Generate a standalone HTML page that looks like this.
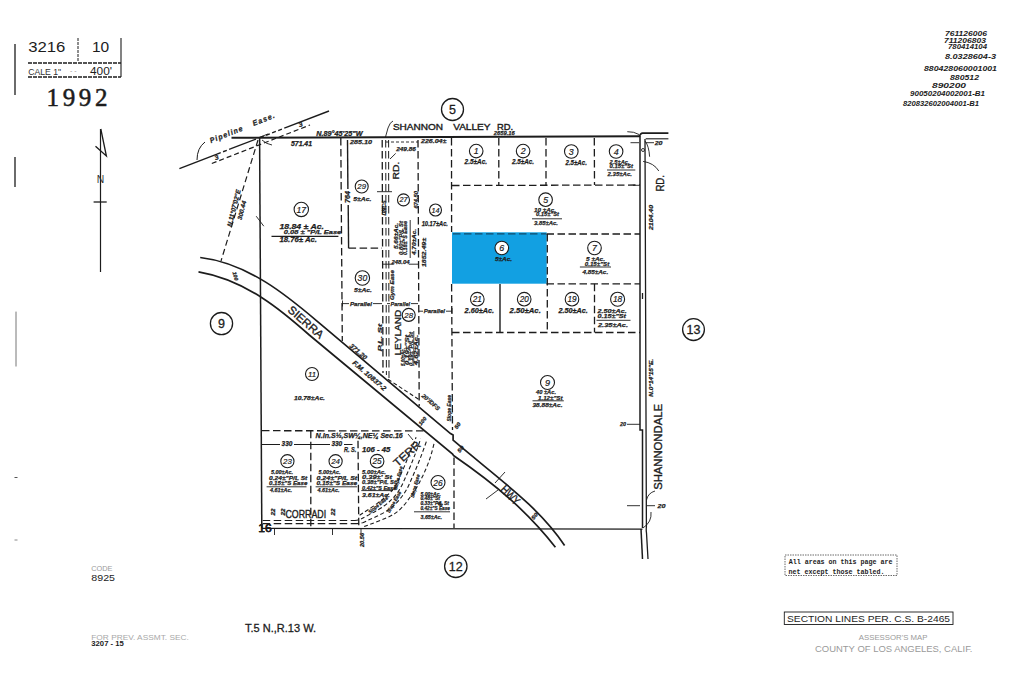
<!DOCTYPE html>
<html><head><meta charset="utf-8">
<style>
html,body{margin:0;padding:0;background:#fff;width:1024px;height:687px;overflow:hidden}
svg{position:absolute;left:0;top:0}
text{font-family:"Liberation Sans",sans-serif;fill:#1c1c1c}
.it{font-style:italic;font-weight:bold;stroke:#1c1c1c;stroke-width:0.25}
.ser{font-family:"Liberation Serif",serif}
.mono{font-family:"Liberation Mono",monospace}
.it0{font-style:italic;font-weight:bold}
.hw{font-style:italic;stroke:#1c1c1c;stroke-width:0.2}
.bold{font-weight:bold}
</style></head><body>
<svg width="1024" height="687" viewBox="0 0 1024 687">
<g stroke="#1c1c1c" fill="none" stroke-width="1.3">
  <line x1="15" y1="44" x2="15" y2="95"/>
  <line x1="15" y1="157" x2="15" y2="187"/>
  <line x1="16" y1="311.6" x2="16" y2="366.5" stroke="#777" stroke-width="1"/>
  <line x1="14.5" y1="477.5" x2="17.5" y2="477.5" stroke="#555" stroke-width="1"/>
  <line x1="14.5" y1="540" x2="17.5" y2="540" stroke="#888" stroke-width="1"/>
  <line x1="78" y1="38" x2="78" y2="62" stroke-dasharray="3 1" stroke-width="1"/>
  <line x1="121" y1="38" x2="121" y2="77" stroke-width="1.1"/>
  <line x1="28" y1="63" x2="121" y2="63" stroke-dasharray="4 1"/>
  <line x1="28" y1="77" x2="121" y2="77" stroke-dasharray="4 1"/>
  <line x1="100.5" y1="129" x2="100.5" y2="272" stroke-width="1.2"/>
  <path d="M100.8 129 L106.4 156 L95.5 146.2" stroke-width="1.3"/>
  <line x1="93.6" y1="202" x2="106.7" y2="202"/>
</g>
<text x="28.2" y="52" font-size="15.5" textLength="37.2" lengthAdjust="spacingAndGlyphs">3216</text>
<text x="92" y="52" font-size="15.5">10</text>
<text x="28.2" y="74.5" font-size="9.5" textLength="33" lengthAdjust="spacingAndGlyphs" style="fill:#333">CALE 1"</text><text x="70" y="73" font-size="7" style="fill:#999">- -</text>
<text x="90" y="74.5" font-size="10" textLength="22" lengthAdjust="spacingAndGlyphs">400'</text>
<text x="46.5" y="106.4" font-size="25" class="ser" textLength="61" lengthAdjust="spacing" stroke="#1c1c1c" stroke-width="0.55">1992</text>
<text x="96.8" y="183.2" font-size="10" textLength="7.5" lengthAdjust="spacingAndGlyphs" style="fill:#333">N</text>

<text x="945" y="36.0" font-size="7.2" class="it0" textLength="42" lengthAdjust="spacingAndGlyphs">761126006</text>
<text x="944" y="43.1" font-size="7.2" class="it0" textLength="42" lengthAdjust="spacingAndGlyphs">711206803</text>
<text x="948" y="49.1" font-size="7.2" class="it0" textLength="39" lengthAdjust="spacingAndGlyphs">780414104</text>
<text x="945" y="58.6" font-size="7.2" class="it0" textLength="51" lengthAdjust="spacingAndGlyphs">8.0328604-3</text>
<text x="924" y="70.6" font-size="7.2" class="it0" textLength="73" lengthAdjust="spacingAndGlyphs">880428060001001</text>
<text x="950" y="80.19999999999999" font-size="7.2" class="it0" textLength="29" lengthAdjust="spacingAndGlyphs">880512</text>
<text x="932" y="88.3" font-size="7.2" class="it0" textLength="34" lengthAdjust="spacingAndGlyphs">890200</text>
<text x="910" y="96.0" font-size="7.2" class="it0" textLength="75" lengthAdjust="spacingAndGlyphs">90050204002001-B1</text>
<text x="903" y="105.89999999999999" font-size="7.2" class="it0" textLength="76" lengthAdjust="spacingAndGlyphs">820832602004001-B1</text>
<g stroke="#1c1c1c" fill="none" stroke-width="1.5">
  <line x1="231.5" y1="137.8" x2="640" y2="136.2" stroke-width="1.9"/>
  <path d="M640 136 L640 430 L642.5 430 L642.5 528"/>
  <path d="M641 529 L642.5 559"/>
  <path d="M645 139 L646.4 527 Q646 530 646.5 533 L648 559" stroke-width="1.3"/>
  <path d="M639.3 136.4 Q640.5 133.1 642.5 133.1 L668.4 133.1" stroke-width="1.6"/>
  <line x1="645.7" y1="138.8" x2="668.4" y2="138.8" stroke-width="1.1"/>
  <line x1="262" y1="528.3" x2="642.5" y2="529.2" stroke-width="1.3"/>
  <line x1="259.6" y1="137.8" x2="261.8" y2="528" stroke-width="1.5"/>
  <line x1="179.4" y1="168.6" x2="217.0" y2="154.1" stroke-width="1.4"/>
  <line x1="217.0" y1="154.1" x2="231.0" y2="148.7" stroke-width="1.4" stroke-dasharray="4 2.5"/>
  <line x1="231.0" y1="148.7" x2="256.0" y2="139.1" stroke-width="1.4"/>
  <line x1="260.0" y1="137.6" x2="285.0" y2="127.9" stroke-width="1.4" stroke-dasharray="4 2.5"/>
  <line x1="285.0" y1="127.9" x2="329.0" y2="111.0" stroke-width="1.4"/>
  <line x1="211.8" y1="163.5" x2="310" y2="125" stroke-dasharray="5 3" stroke-width="1.2"/>
  <line x1="258" y1="140" x2="221" y2="261" stroke-dasharray="6 3.5" stroke-width="1.2"/>
  <path d="M205 142 Q197 148 197 160" stroke-width="1"/>
</g>
<g stroke="#1c1c1c" fill="none" stroke-width="1.7">
<path d="M200.2 257.5 C250.6 263.3 292.5 300.4 320 323.6 L450.5 433.6 L453.1 435.1 L453.1 440.2 C499.1 479.4 538.1 505.9 564.6 545.5"/>
<path d="M198.5 271.9 C246.3 280 282.9 311.5 309.3 335 L452.6 454 L453.5 455.5 C498.9 486.8 528.8 513.4 555.4 547.2"/>
</g>
<rect x="452" y="232.3" width="94.7" height="51.4" fill="#12a0e2"/>
<line x1="453" y1="233.9" x2="546" y2="233.9" stroke="#124a6a" stroke-width="1.1" stroke-dasharray="7.5 3.5"/>
<g stroke="#1c1c1c" fill="none" stroke-width="1.3" stroke-dasharray="7.5 3.5">
  <line x1="340.8" y1="138" x2="342.3" y2="341"/>
  <line x1="382.2" y1="140" x2="383" y2="373"/>
  <line x1="385.7" y1="140" x2="386.4" y2="375" stroke-width="1"/>
  <line x1="388.6" y1="140" x2="389" y2="378" stroke-width="1"/>
  <line x1="418" y1="140" x2="419.2" y2="406"/>
  <line x1="451.5" y1="138" x2="451.6" y2="232"/><line x1="451.6" y1="284" x2="452.5" y2="430"/>
  <line x1="452" y1="185.5" x2="640" y2="185"/>
  <line x1="498.8" y1="138" x2="498.8" y2="185"/>
  <line x1="546" y1="138" x2="546" y2="185"/>
  <line x1="594.3" y1="138" x2="594.5" y2="185"/>
  <line x1="546.5" y1="234" x2="640" y2="234"/>
  <line x1="547.3" y1="234" x2="547.3" y2="332.5"/>
  <line x1="546.5" y1="283.8" x2="640" y2="283.8"/>
  <line x1="594.5" y1="283.8" x2="594.5" y2="332.5"/>
  <line x1="452" y1="332.5" x2="640" y2="332.5"/>
  <line x1="262" y1="430.7" x2="425" y2="430.9"/>
  <line x1="310.8" y1="430.7" x2="310.8" y2="528"/>
  <line x1="358" y1="440.8" x2="358.8" y2="528"/>
  <line x1="454" y1="457.6" x2="454" y2="528"/>
  <line x1="348.6" y1="248.2" x2="382" y2="248.2"/>
  <line x1="262.7" y1="520.5" x2="355" y2="520.5" stroke-width="1.1"/>
  <line x1="262.7" y1="523.6" x2="355" y2="523.6" stroke-width="1.1"/>
</g>
<g stroke="#1c1c1c" fill="none" stroke-width="1.4">
  <line x1="347.5" y1="140" x2="347.9" y2="189"/><line x1="348.2" y1="205" x2="348.6" y2="248.2"/>
  <line x1="500" y1="284" x2="500" y2="332.5"/>
  <line x1="262" y1="444.5" x2="352.5" y2="444.5" stroke-width="1.1"/>
</g>
<g stroke="#1c1c1c" fill="none" stroke-width="1.1" stroke-dasharray="4 2.5">
<path d="M359.6 515.2 C362.7 513.2 372.3 507.2 377.9 502.9 C383.5 498.6 389.1 494.5 393.2 489.2 C397.3 483.9 399.6 476.9 402.4 470.8 C405.2 464.7 407.7 458.1 410.0 452.5 C412.3 446.9 415.1 439.8 416.1 437.2"/>
<path d="M361.1 519.0 C364.9 516.8 377.9 510.5 384.0 506.0 C390.1 501.5 394.0 497.5 397.8 492.2 C401.6 486.9 404.2 480.1 407.0 474.0 C409.8 467.9 412.3 461.5 414.6 455.6 C416.9 449.7 419.7 441.6 420.7 438.8"/>
<path d="M362.6 522.8 C366.9 520.6 381.7 514.6 388.6 509.8 C395.5 505.0 399.8 499.5 403.9 493.8 C408.0 488.1 410.3 481.5 413.1 475.4 C415.9 469.3 418.4 463.0 420.7 457.1 C423.0 451.2 425.8 443.1 426.8 440.3"/>
<path d="M364.2 526.6 C369.3 524.4 386.8 518.8 394.7 513.6 C402.6 508.4 406.9 501.4 411.5 495.3 C416.1 489.2 419.1 483.1 422.2 477.0 C425.3 470.9 427.8 464.5 429.9 458.6 C431.9 452.7 433.7 444.6 434.5 441.8"/>
<path d="M355 520.5 Q358 520 361.1 519"/><path d="M355 523.6 Q359 523.5 362.6 522.8"/>
<line x1="388" y1="379.3" x2="418.5" y2="399.2"/>
</g>
<g stroke="#1c1c1c" fill="none" stroke-width="1.3">
<circle cx="452.5" cy="109.5" r="11"/>
<circle cx="221.5" cy="323.6" r="11.1"/>
<circle cx="693.5" cy="329.6" r="10.9"/>
<circle cx="455.8" cy="566.3" r="11.2"/>
</g>
<text x="452.5" y="113.8" font-size="12.5" text-anchor="middle" stroke="#1c1c1c" stroke-width="0.3">5</text>
<text x="221.5" y="327.90000000000003" font-size="12.5" text-anchor="middle" stroke="#1c1c1c" stroke-width="0.3">9</text>
<text x="693.5" y="333.90000000000003" font-size="12.5" text-anchor="middle" stroke="#1c1c1c" stroke-width="0.3">13</text>
<text x="455.8" y="570.5999999999999" font-size="12.5" text-anchor="middle" stroke="#1c1c1c" stroke-width="0.3">12</text>
<circle cx="501.8" cy="248" r="6.8" fill="#fff"/>
<g stroke="#1c1c1c" fill="none" stroke-width="1.1">
<circle cx="476.2" cy="151.1" r="6.8"/>
<circle cx="523.1" cy="151.1" r="6.8"/>
<circle cx="571.3" cy="151.5" r="6.8"/>
<circle cx="616.1" cy="151.5" r="6.8"/>
<circle cx="545.6" cy="199.7" r="6.8"/>
<circle cx="501.8" cy="248" r="6.8"/>
<circle cx="594.5" cy="248" r="6.8"/>
<circle cx="477.3" cy="299.2" r="6.8"/>
<circle cx="524.2" cy="299.2" r="6.8"/>
<circle cx="572" cy="299.2" r="6.8"/>
<circle cx="617.6" cy="299.2" r="7"/>
<circle cx="547.5" cy="382.5" r="7"/>
<circle cx="361.7" cy="186.5" r="6.5"/>
<circle cx="403.5" cy="199.9" r="6"/>
<circle cx="435.5" cy="210" r="6"/>
<circle cx="362.4" cy="278" r="7.2"/>
<circle cx="312" cy="374" r="6.5"/>
<circle cx="408.7" cy="314.9" r="6.5"/>
<circle cx="301.3" cy="209.4" r="7.2"/>
<circle cx="287.4" cy="461.2" r="6.6"/>
<circle cx="335.6" cy="461.2" r="6.6"/>
<circle cx="377.1" cy="461.2" r="6.8"/>
<circle cx="438" cy="482.5" r="7"/>
</g>
<text x="476.2" y="154.2824" font-size="8.8" class="hw" text-anchor="middle">1</text>
<text x="523.1" y="154.2824" font-size="8.8" class="hw" text-anchor="middle">2</text>
<text x="571.3" y="154.6824" font-size="8.8" class="hw" text-anchor="middle">3</text>
<text x="616.1" y="154.6824" font-size="8.8" class="hw" text-anchor="middle">4</text>
<text x="545.6" y="202.8824" font-size="8.8" class="hw" text-anchor="middle">5</text>
<text x="501.8" y="251.1824" font-size="8.8" class="hw" text-anchor="middle">6</text>
<text x="594.5" y="251.1824" font-size="8.8" class="hw" text-anchor="middle">7</text>
<text x="477.3" y="302.13759999999996" font-size="8.2" class="hw" text-anchor="middle">21</text>
<text x="524.2" y="302.13759999999996" font-size="8.2" class="hw" text-anchor="middle">20</text>
<text x="572" y="302.13759999999996" font-size="8.2" class="hw" text-anchor="middle">19</text>
<text x="617.6" y="302.224" font-size="8.4" class="hw" text-anchor="middle">18</text>
<text x="547.5" y="385.776" font-size="9.1" class="hw" text-anchor="middle">9</text>
<text x="361.7" y="189.308" font-size="7.8" class="hw" text-anchor="middle">29</text>
<text x="403.5" y="202.49200000000002" font-size="7.2" class="hw" text-anchor="middle">27</text>
<text x="435.5" y="212.592" font-size="7.2" class="hw" text-anchor="middle">14</text>
<text x="362.4" y="281.1104" font-size="8.6" class="hw" text-anchor="middle">30</text>
<text x="312" y="376.808" font-size="7.8" class="hw" text-anchor="middle">11</text>
<text x="408.7" y="317.70799999999997" font-size="7.8" class="hw" text-anchor="middle">28</text>
<text x="301.3" y="212.5104" font-size="8.6" class="hw" text-anchor="middle">17</text>
<text x="287.4" y="464.0512" font-size="7.9" class="hw" text-anchor="middle">23</text>
<text x="335.6" y="464.0512" font-size="7.9" class="hw" text-anchor="middle">24</text>
<text x="377.1" y="464.13759999999996" font-size="8.2" class="hw" text-anchor="middle">25</text>
<text x="438" y="485.524" font-size="8.4" class="hw" text-anchor="middle">26</text>
<text x="464.6" y="164.2" font-size="6.9" class="it" textLength="22.5" lengthAdjust="spacingAndGlyphs">2.5±Ac.</text>
<text x="512.0" y="164.2" font-size="6.9" class="it" textLength="22.0" lengthAdjust="spacingAndGlyphs">2.5±Ac.</text>
<text x="565.5" y="164.8" font-size="6.9" class="it" textLength="21.4" lengthAdjust="spacingAndGlyphs">2.5±Ac.</text>
<text x="609.6" y="163.6" font-size="6.2" class="it" textLength="19.9" lengthAdjust="spacingAndGlyphs">2.5±Ac.</text>
<text x="609.6" y="167.9" font-size="6.2" class="it" textLength="23.4" lengthAdjust="spacingAndGlyphs">0.15±"St</text>
<line x1="607" y1="170" x2="635.3" y2="170" stroke="#1c1c1c" stroke-width="0.9"/>
<text x="607.5" y="175.9" font-size="6.2" class="it" textLength="24.5" lengthAdjust="spacingAndGlyphs">2.35±Ac.</text>
<text x="493.7" y="135.3" font-size="5.8" class="it" textLength="21.1" lengthAdjust="spacingAndGlyphs">2659.16</text>
<text x="534.0" y="212.1" font-size="6.2" class="it" textLength="22.0" lengthAdjust="spacingAndGlyphs">10  ±Ac.</text>
<text x="536.0" y="216.3" font-size="6.2" class="it" textLength="23.0" lengthAdjust="spacingAndGlyphs">0.15±"St</text>
<line x1="532" y1="218.8" x2="562" y2="218.8" stroke="#1c1c1c" stroke-width="0.9"/>
<text x="534.0" y="224.7" font-size="6.2" class="it" textLength="24.0" lengthAdjust="spacingAndGlyphs">3.85±Ac.</text>
<text x="494.9" y="260.9" font-size="6.2" class="it" textLength="17.2" lengthAdjust="spacingAndGlyphs">5±Ac.</text>
<text x="586.0" y="260.9" font-size="6.2" class="it" textLength="19.0" lengthAdjust="spacingAndGlyphs">5  ±Ac.</text>
<text x="584.8" y="265.9" font-size="6.2" class="it" textLength="24.4" lengthAdjust="spacingAndGlyphs">0.15±"St</text>
<line x1="579.9" y1="267" x2="611" y2="267" stroke="#1c1c1c" stroke-width="0.9"/>
<text x="582.4" y="273.8" font-size="6.2" class="it" textLength="25.8" lengthAdjust="spacingAndGlyphs">4.85±Ac.</text>
<text x="464.6" y="313.4" font-size="6.9" class="it" textLength="29.4" lengthAdjust="spacingAndGlyphs">2.60±Ac.</text>
<text x="509.6" y="313.4" font-size="6.9" class="it" textLength="31.2" lengthAdjust="spacingAndGlyphs">2.50±Ac.</text>
<text x="558.4" y="313.4" font-size="6.9" class="it" textLength="29.3" lengthAdjust="spacingAndGlyphs">2.50±Ac.</text>
<text x="597.5" y="313.2" font-size="6.2" class="it" textLength="29.3" lengthAdjust="spacingAndGlyphs">2.50±Ac.</text>
<text x="597.5" y="318.1" font-size="6.2" class="it" textLength="28.5" lengthAdjust="spacingAndGlyphs">0.15±"St</text>
<line x1="596.5" y1="320.3" x2="630.5" y2="320.3" stroke="#1c1c1c" stroke-width="0.9"/>
<text x="598.0" y="327.2" font-size="6.2" class="it" textLength="30.0" lengthAdjust="spacingAndGlyphs">2.35±Ac.</text>
<text x="536.0" y="394.2" font-size="6.2" class="it" textLength="20.0" lengthAdjust="spacingAndGlyphs">40  ±Ac.</text>
<text x="538.0" y="399.8" font-size="6.2" class="it" textLength="24.5" lengthAdjust="spacingAndGlyphs">1.12±"St</text>
<line x1="532.5" y1="400.8" x2="563.8" y2="400.8" stroke="#1c1c1c" stroke-width="0.9"/>
<text x="532.5" y="407.2" font-size="6.2" class="it" textLength="30.0" lengthAdjust="spacingAndGlyphs">38.88±Ac.</text>
<text x="279.5" y="229.3" font-size="6.9" class="it" textLength="44.4" lengthAdjust="spacingAndGlyphs">18.84 ± Ac.</text>
<text x="283.8" y="234.2" font-size="6.2" class="it" textLength="57.5" lengthAdjust="spacingAndGlyphs">0.08 ± "P/L Ease</text>
<line x1="271.5" y1="236.3" x2="338.4" y2="236.3" stroke="#1c1c1c" stroke-width="1.2"/>
<text x="279.5" y="242.1" font-size="6.9" class="it" textLength="37.5" lengthAdjust="spacingAndGlyphs">18.76± Ac.</text>
<text x="350.0" y="143.8" font-size="6.2" class="it" textLength="22.0" lengthAdjust="spacingAndGlyphs">285.10</text>
<text x="353.3" y="200.7" font-size="6.2" class="it" textLength="18.2" lengthAdjust="spacingAndGlyphs">5±Ac.</text>
<text x="421.0" y="143.2" font-size="6.2" class="it" textLength="25.4" lengthAdjust="spacingAndGlyphs">226.04±</text>
<text x="396.2" y="151.0" font-size="5.8" class="it" textLength="19.7" lengthAdjust="spacingAndGlyphs">249.86</text>
<text x="421.7" y="225.6" font-size="6.7" class="it" textLength="26.2" lengthAdjust="spacingAndGlyphs">10.17±Ac.</text>
<text x="354.0" y="292.2" font-size="6.2" class="it" textLength="18.0" lengthAdjust="spacingAndGlyphs">5±Ac.</text>
<text x="294.0" y="399.8" font-size="6.2" class="it" textLength="31.0" lengthAdjust="spacingAndGlyphs">10.78±Ac.</text>
<text x="291.0" y="145.6" font-size="6.7" class="it" textLength="21.0" lengthAdjust="spacingAndGlyphs">571.41</text>
<text x="316.2" y="136.0" font-size="6.7" class="it" textLength="46.3" lengthAdjust="spacingAndGlyphs">N.89°45'25"W</text>
<text x="350.0" y="305.8" font-size="6.0" class="it" textLength="22.0" lengthAdjust="spacingAndGlyphs">Parallel</text>
<text x="390.5" y="305.8" font-size="6.0" class="it" textLength="19.5" lengthAdjust="spacingAndGlyphs">Parallel</text>
<text x="423.7" y="313.3" font-size="6.0" class="it" textLength="21.3" lengthAdjust="spacingAndGlyphs">Parallel</text>
<g stroke="#1c1c1c" stroke-width="0.4">
<text x="392.9" y="129.7" font-size="9.7" class="" textLength="50.1" lengthAdjust="spacingAndGlyphs">SHANNON</text>
<text x="453.2" y="129.7" font-size="9.7" class="" textLength="37.3" lengthAdjust="spacingAndGlyphs">VALLEY</text>
<text x="497.1" y="129.7" font-size="9.7" class="" textLength="16.1" lengthAdjust="spacingAndGlyphs">RD.</text>
</g>
<g letter-spacing="1.2">
<text transform="translate(226.5 134.0) rotate(-21.5)" x="-17.8" y="2.8" font-size="7.6" class="it" textLength="35.6" lengthAdjust="spacingAndGlyphs">Pipeline</text>
<text transform="translate(264.0 119.0) rotate(-21.5)" x="-12.0" y="2.8" font-size="7.6" class="it" textLength="24.0" lengthAdjust="spacingAndGlyphs">Ease.</text>
</g>
<text transform="translate(216.5 157.5) rotate(-21.5)" x="-2.0" y="2.2" font-size="6.2" class="it" textLength="4.0" lengthAdjust="spacingAndGlyphs">3</text>
<text transform="translate(300.5 124.5) rotate(-21.5)" x="-2.0" y="2.2" font-size="6.2" class="it" textLength="4.0" lengthAdjust="spacingAndGlyphs">3</text>
<text transform="translate(233.8 208.0) rotate(-76)" x="-18.9" y="2.4" font-size="6.7" class="it" textLength="37.8" lengthAdjust="spacingAndGlyphs">N.11°07'02"E</text>
<text transform="translate(241.8 210.3) rotate(-76)" x="-9.7" y="2.2" font-size="6.2" class="it" textLength="19.4" lengthAdjust="spacingAndGlyphs">300.44</text>
<text transform="translate(347.5 197.0) rotate(-90)" x="-6.0" y="2.5" font-size="6.9" class="it" textLength="12.0" lengthAdjust="spacingAndGlyphs">764</text>
<text transform="translate(415.9 199.8) rotate(-90)" x="-8.8" y="2.1" font-size="5.8" class="it" textLength="17.6" lengthAdjust="spacingAndGlyphs">674.50</text>
<g stroke="#1c1c1c" stroke-width="0.3">
<text transform="translate(396.2 170.5) rotate(-90)" x="-8.9" y="3.0" font-size="8.5" class="" textLength="17.8" lengthAdjust="spacingAndGlyphs">RD.</text>
</g>
<text transform="translate(424.0 252.5) rotate(-90)" x="-14.5" y="2.2" font-size="6.2" class="it" textLength="29.0" lengthAdjust="spacingAndGlyphs">1852.49±</text>
<text transform="translate(383.5 208.0) rotate(-90)" x="-7.5" y="2.1" font-size="5.8" class="it" textLength="15.0" lengthAdjust="spacingAndGlyphs">DNCS</text>
<text transform="translate(392.0 285.0) rotate(-90)" x="-15.0" y="2.1" font-size="5.8" class="it" textLength="30.0" lengthAdjust="spacingAndGlyphs">Gym Ease</text>
<text transform="translate(396.0 236.0) rotate(-90)" x="-13.0" y="2.1" font-size="5.8" class="it" textLength="26.0" lengthAdjust="spacingAndGlyphs">5.66±Ac.</text>
<text transform="translate(400.5 238.0) rotate(-90)" x="-17.0" y="2.1" font-size="5.8" class="it" textLength="34.0" lengthAdjust="spacingAndGlyphs">0.80±"P/L St</text>
<text transform="translate(405.0 238.0) rotate(-90)" x="-17.0" y="2.1" font-size="5.8" class="it" textLength="34.0" lengthAdjust="spacingAndGlyphs">0.16±"S Ease</text>
<text transform="translate(413.5 242.0) rotate(-90)" x="-13.0" y="2.1" font-size="5.8" class="it" textLength="26.0" lengthAdjust="spacingAndGlyphs">4.70±Ac.</text>
<line x1="410.2" y1="220" x2="410.2" y2="258" stroke="#1c1c1c" stroke-width="0.9"/>
<text transform="translate(400.5 261.5) rotate(0)" x="-9.0" y="2.1" font-size="5.8" class="it" textLength="18.0" lengthAdjust="spacingAndGlyphs">248.04</text>
<g stroke="#1c1c1c" stroke-width="0.9"><line x1="383" y1="264.2" x2="393.7" y2="264.2"/><line x1="409" y1="264.2" x2="418.5" y2="264.2"/></g>
<text transform="translate(397.5 332.6) rotate(-90)" x="-22.9" y="3.5" font-size="9.7" class="" textLength="45.8" lengthAdjust="spacingAndGlyphs" stroke="#1c1c1c" stroke-width="0.35">LEYLAND</text>
<text transform="translate(403.4 357.0) rotate(-90)" x="-9.0" y="1.8" font-size="5.0" class="it" textLength="18.0" lengthAdjust="spacingAndGlyphs">5.00±Ac.</text>
<text transform="translate(407.5 350.0) rotate(-90)" x="-15.0" y="1.8" font-size="5.0" class="it" textLength="30.0" lengthAdjust="spacingAndGlyphs">0.19±"St</text>
<text transform="translate(411.5 349.0) rotate(-90)" x="-17.0" y="1.8" font-size="5.0" class="it" textLength="34.0" lengthAdjust="spacingAndGlyphs">0.19±"P/L St</text>
<text transform="translate(416.0 350.0) rotate(-90)" x="-15.0" y="1.8" font-size="5.0" class="it" textLength="30.0" lengthAdjust="spacingAndGlyphs">4.62±Ac.</text>
<line x1="413.8" y1="331" x2="413.8" y2="366" stroke="#1c1c1c" stroke-width="0.8"/>
<text transform="translate(379.8 337.8) rotate(-90)" x="-13.8" y="2.1" font-size="5.8" class="it" textLength="27.6" lengthAdjust="spacingAndGlyphs">P.L. St</text>
<text transform="translate(306.0 322.0) rotate(41)" x="-21.5" y="4.1" font-size="11.4" class="" textLength="43.0" lengthAdjust="spacingAndGlyphs" stroke="#1c1c1c" stroke-width="0.35">SIERRA</text>
<text transform="translate(358.4 351.5) rotate(41)" x="-10.5" y="2.4" font-size="6.7" class="it" textLength="21.0" lengthAdjust="spacingAndGlyphs">371.20</text>
<text transform="translate(369.5 375.5) rotate(41)" x="-21.0" y="2.4" font-size="6.7" class="it" textLength="42.0" lengthAdjust="spacingAndGlyphs">F.M. 10837-2</text>
<text transform="translate(235.5 276.0) rotate(75)" x="-4.5" y="1.9" font-size="5.3" class="it" textLength="9.0" lengthAdjust="spacingAndGlyphs">100</text>
<text transform="translate(422.5 421.0) rotate(-50)" x="-4.5" y="1.9" font-size="5.3" class="it" textLength="9.0" lengthAdjust="spacingAndGlyphs">100</text>
<text transform="translate(460.5 449.0) rotate(-50)" x="-3.5" y="1.9" font-size="5.3" class="it" textLength="7.0" lengthAdjust="spacingAndGlyphs">50</text>
<text transform="translate(534.5 516.0) rotate(-50)" x="-3.5" y="1.9" font-size="5.3" class="it" textLength="7.0" lengthAdjust="spacingAndGlyphs">50</text>
<text transform="translate(510.5 495.0) rotate(45)" x="-11.0" y="4.2" font-size="11.8" class="" textLength="22.0" lengthAdjust="spacingAndGlyphs" stroke="#1c1c1c" stroke-width="0.35">HWY</text>
<text transform="translate(431.0 402.0) rotate(41)" x="-11.0" y="2.1" font-size="5.8" class="it" textLength="22.0" lengthAdjust="spacingAndGlyphs">20'/DFS</text>
<text transform="translate(448.8 408.3) rotate(-90)" x="-13.3" y="1.9" font-size="5.3" class="it" textLength="26.6" lengthAdjust="spacingAndGlyphs">Slope Ease</text>
<text transform="translate(457.5 425.6) rotate(-55)" x="-3.5" y="1.9" font-size="5.3" class="it" textLength="7.0" lengthAdjust="spacingAndGlyphs">50</text>
<text transform="translate(406.8 453.5) rotate(-42)" x="-16.0" y="4.0" font-size="11.1" class="" textLength="32.0" lengthAdjust="spacingAndGlyphs" stroke="#1c1c1c" stroke-width="0.35">TERR</text>
<text transform="translate(359.2 435.3) rotate(0)" x="-43.6" y="2.5" font-size="6.9" class="it" textLength="87.2" lengthAdjust="spacingAndGlyphs">N.ln.S½,SW¼,NE¼ Sec.16</text>
<rect x="280" y="440" width="14" height="8" fill="#fff"/><rect x="330" y="440" width="14" height="8" fill="#fff"/>
<text transform="translate(287.0 443.6) rotate(0)" x="-5.4" y="2.4" font-size="6.7" class="it" textLength="10.8" lengthAdjust="spacingAndGlyphs">330</text>
<text transform="translate(336.8 443.6) rotate(0)" x="-5.4" y="2.4" font-size="6.7" class="it" textLength="10.8" lengthAdjust="spacingAndGlyphs">330</text>
<text transform="translate(350.1 449.9) rotate(0)" x="-6.2" y="2.5" font-size="6.9" class="it" textLength="12.4" lengthAdjust="spacingAndGlyphs">R. S.</text>
<text transform="translate(376.2 449.9) rotate(0)" x="-14.2" y="2.5" font-size="6.9" class="it" textLength="28.3" lengthAdjust="spacingAndGlyphs">106 - 45</text>
<text x="271.0" y="474.4" font-size="5.8" class="it" textLength="22.0" lengthAdjust="spacingAndGlyphs">5.00±Ac.</text>
<text x="269.0" y="479.9" font-size="5.8" class="it" textLength="38.3" lengthAdjust="spacingAndGlyphs">0.24±"P/L St</text>
<text x="269.0" y="485.3" font-size="5.8" class="it" textLength="38.3" lengthAdjust="spacingAndGlyphs">0.15±"S Ease</text>
<line x1="266.6" y1="486.8" x2="306.5" y2="486.8" stroke="#1c1c1c" stroke-width="0.9"/>
<text x="270.0" y="492.2" font-size="5.8" class="it" textLength="22.0" lengthAdjust="spacingAndGlyphs">4.61±Ac.</text>
<text x="318.5" y="474.4" font-size="5.8" class="it" textLength="22.0" lengthAdjust="spacingAndGlyphs">5.00±Ac.</text>
<text x="316.5" y="479.9" font-size="5.8" class="it" textLength="40.7" lengthAdjust="spacingAndGlyphs">0.24±"P/L St</text>
<text x="316.5" y="485.3" font-size="5.8" class="it" textLength="40.7" lengthAdjust="spacingAndGlyphs">0.15±"S Ease</text>
<line x1="315.6" y1="486.8" x2="357.2" y2="486.8" stroke="#1c1c1c" stroke-width="0.9"/>
<text x="317.5" y="492.2" font-size="5.8" class="it" textLength="22.0" lengthAdjust="spacingAndGlyphs">4.61±Ac.</text>
<text x="362.1" y="474.4" font-size="5.8" class="it" textLength="23.9" lengthAdjust="spacingAndGlyphs">5.00±Ac.</text>
<text x="362.1" y="479.3" font-size="5.8" class="it" textLength="29.9" lengthAdjust="spacingAndGlyphs">0.39±' St</text>
<text x="362.1" y="484.1" font-size="5.8" class="it" textLength="33.9" lengthAdjust="spacingAndGlyphs">0.38±"P/L St</text>
<text x="362.1" y="489.6" font-size="5.8" class="it" textLength="34.1" lengthAdjust="spacingAndGlyphs">0.42±"S Ease</text>
<line x1="361.3" y1="490.6" x2="392.9" y2="490.6" stroke="#1c1c1c" stroke-width="0.9"/>
<text x="362.1" y="496.9" font-size="5.8" class="it" textLength="27.9" lengthAdjust="spacingAndGlyphs">3.61±Ac.</text>
<text x="420.5" y="495.9" font-size="5.3" class="it" textLength="20.5" lengthAdjust="spacingAndGlyphs">5.00±Ac.</text>
<text x="420.5" y="500.4" font-size="5.3" class="it" textLength="19.5" lengthAdjust="spacingAndGlyphs">0.48±"St</text>
<text x="420.5" y="504.9" font-size="5.3" class="it" textLength="28.5" lengthAdjust="spacingAndGlyphs">0.33±"P/L St</text>
<text x="420.5" y="509.9" font-size="5.3" class="it" textLength="29.5" lengthAdjust="spacingAndGlyphs">0.42±"S Ease</text>
<line x1="414" y1="511.8" x2="450" y2="511.8" stroke="#1c1c1c" stroke-width="0.9"/>
<text x="420.5" y="518.9" font-size="5.3" class="it" textLength="21.5" lengthAdjust="spacingAndGlyphs">3.65±Ac.</text>
<g stroke="#1c1c1c" stroke-width="0.35">
<text transform="translate(305.8 514.6) rotate(0)" x="-20.4" y="3.7" font-size="10.3" class="" textLength="40.7" lengthAdjust="spacingAndGlyphs" stroke="#1c1c1c" stroke-width="0.35">CORRADI</text>
<text transform="translate(265.0 527.8) rotate(0)" x="-6.8" y="4.2" font-size="11.8" class="" textLength="13.5" lengthAdjust="spacingAndGlyphs" stroke="#1c1c1c" stroke-width="0.35">16</text>
</g>
<text transform="translate(265.0 527.8) rotate(0)" x="-6.8" y="4.2" font-size="11.8" class="" textLength="13.5" lengthAdjust="spacingAndGlyphs" stroke="#1c1c1c" stroke-width="0.35">16</text>
<text transform="translate(362.5 540.0) rotate(-90)" x="-7.0" y="1.8" font-size="5.0" class="it" textLength="14.0" lengthAdjust="spacingAndGlyphs">20.56</text>
<text transform="translate(273.0 512.0) rotate(-90)" x="-3.5" y="1.8" font-size="5.0" class="it" textLength="7.0" lengthAdjust="spacingAndGlyphs">22</text>
<text transform="translate(283.0 512.0) rotate(-90)" x="-3.5" y="1.8" font-size="5.0" class="it" textLength="7.0" lengthAdjust="spacingAndGlyphs">22</text>
<text transform="translate(333.5 512.0) rotate(-90)" x="-3.5" y="1.8" font-size="5.0" class="it" textLength="7.0" lengthAdjust="spacingAndGlyphs">22</text>
<text transform="translate(378.0 505.0) rotate(-40)" x="-12.0" y="1.8" font-size="5.0" class="it" textLength="24.0" lengthAdjust="spacingAndGlyphs">Slope Ease</text>
<text transform="translate(394.0 502.0) rotate(-60)" x="-12.0" y="1.8" font-size="5.0" class="it" textLength="24.0" lengthAdjust="spacingAndGlyphs">Slope Ease</text>
<text transform="translate(415.0 486.0) rotate(-75)" x="-12.0" y="1.8" font-size="5.0" class="it" textLength="24.0" lengthAdjust="spacingAndGlyphs">Slope Ease</text>
<text transform="translate(398.0 478.0) rotate(-75)" x="-12.0" y="1.8" font-size="5.0" class="it" textLength="24.0" lengthAdjust="spacingAndGlyphs">Slope Ease</text>
<text transform="translate(440.0 504.0) rotate(45)" x="-2.5" y="1.8" font-size="5.0" class="it" textLength="5.0" lengthAdjust="spacingAndGlyphs">40</text>
<text transform="translate(660.0 183.3) rotate(-90)" x="-8.3" y="3.8" font-size="10.4" class="" textLength="16.6" lengthAdjust="spacingAndGlyphs" stroke="#1c1c1c" stroke-width="0.35">RD.</text>
<text transform="translate(650.5 217.5) rotate(-90)" x="-12.5" y="2.2" font-size="6.2" class="it" textLength="25.0" lengthAdjust="spacingAndGlyphs">2104.40</text>
<text transform="translate(658.6 142.7) rotate(0)" x="-3.9" y="2.2" font-size="6.2" class="it" textLength="7.8" lengthAdjust="spacingAndGlyphs">20</text>
<text transform="translate(650.9 377.8) rotate(-90)" x="-18.9" y="2.2" font-size="6.2" class="it" textLength="37.8" lengthAdjust="spacingAndGlyphs">N.0°14'15"E.</text>
<text transform="translate(658.8 446.9) rotate(-90)" x="-42.9" y="3.6" font-size="10.1" class="" textLength="85.7" lengthAdjust="spacingAndGlyphs" stroke="#1c1c1c" stroke-width="0.35">SHANNONDALE</text>
<text transform="translate(623.0 424.3) rotate(0)" x="-3.0" y="2.0" font-size="5.6" class="it" textLength="6.0" lengthAdjust="spacingAndGlyphs">20</text>
<text transform="translate(661.5 505.7) rotate(0)" x="-4.0" y="2.2" font-size="6.2" class="it" textLength="8.0" lengthAdjust="spacingAndGlyphs">20</text>
<g stroke="#1c1c1c" stroke-width="0.9" fill="none"><line x1="627" y1="424.3" x2="640" y2="424.3"/><line x1="627" y1="505.7" x2="640" y2="505.7"/><line x1="647" y1="505.7" x2="655" y2="505.7"/><path d="M655 491 Q648 493 646.5 500"/><path d="M651 512 Q652 522 643 528"/><line x1="633" y1="185.3" x2="639" y2="185.3"/><line x1="256.2" y1="216.2" x2="263.8" y2="226.2"/><line x1="642.5" y1="293" x2="642.5" y2="299" stroke-width="1.3"/></g>
<g stroke="#1c1c1c" stroke-width="0.9" fill="none"><line x1="342.5" y1="303.6" x2="349" y2="303.6"/><line x1="373" y1="303.6" x2="382" y2="303.6"/><line x1="387" y1="303.6" x2="390" y2="303.6"/><line x1="411" y1="303.6" x2="418" y2="303.6"/><line x1="419" y1="311.2" x2="423" y2="311.2"/><line x1="446" y1="311.2" x2="452" y2="311.2"/><line x1="342.5" y1="300.5" x2="342.5" y2="306.5"/><line x1="452" y1="308" x2="452" y2="314"/><line x1="274.5" y1="529" x2="274.5" y2="535"/><line x1="332.5" y1="529" x2="332.5" y2="535"/><line x1="361" y1="529" x2="361" y2="533"/><line x1="408" y1="434" x2="413" y2="440"/><line x1="495" y1="483" x2="505" y2="472"/><line x1="486" y1="499" x2="498" y2="490"/><path d="M627.3 131.7 Q634 131.5 639 134.5"/><line x1="630.5" y1="142.7" x2="639" y2="142.7"/><line x1="645.5" y1="142.7" x2="654" y2="142.7"/><path d="M645 141 Q649 146 649.6 156.7"/><path d="M643.1 161.4 Q654 163 658.8 171"/><circle cx="643" cy="150" r="1.5"/></g>
<g stroke="#1c1c1c" stroke-width="0.9" fill="none"><line x1="390" y1="159" x2="395.7" y2="153.4"/><path d="M386 142 L418 142" stroke-dasharray="3 2"/><line x1="377" y1="191.7" x2="392" y2="191.7"/><path d="M385.5 137 L388 128 Q390 122 393 121"/><path d="M259 137.5 L268 134 M262 140 Q266 144 272 145"/></g>
<rect x="785" y="555" width="112" height="20.5" fill="none" stroke="#444" stroke-width="0.8" stroke-dasharray="1.5 1"/>
<text x="788.7" y="563.9" font-size="7.2" class="mono bold" textLength="103.8" lengthAdjust="spacingAndGlyphs">All areas on this page are</text>
<text x="788.5" y="573.9" font-size="7.2" class="mono bold" textLength="96.0" lengthAdjust="spacingAndGlyphs">net except those tabled.</text>
<rect x="784.3" y="612" width="168.7" height="12.5" fill="none" stroke="#1c1c1c" stroke-width="0.9"/>
<text x="787.0" y="622.0" font-size="9.7" class="" textLength="163.0" lengthAdjust="spacingAndGlyphs">SECTION   LINES   PER.  C.S.  B-2465</text>
<text x="858.8" y="640.2" font-size="7.6" class="" textLength="68.7" lengthAdjust="spacingAndGlyphs" style="fill:#9a9a9a">ASSESSOR'S MAP</text>
<text x="815.0" y="652.0" font-size="9.0" class="" textLength="157.5" lengthAdjust="spacingAndGlyphs" style="fill:#9a9a9a">COUNTY OF LOS ANGELES, CALIF.</text>
<text x="91.3" y="570.5" font-size="7.6" class="" textLength="21.2" lengthAdjust="spacingAndGlyphs" style="fill:#9a9a9a">CODE</text>
<text x="91.3" y="580.5" font-size="9.4" class="" textLength="23.7" lengthAdjust="spacingAndGlyphs">8925</text>
<text x="91.3" y="639.5" font-size="8.1" class="" textLength="97.5" lengthAdjust="spacingAndGlyphs" style="fill:#a8a8a8">FOR PREV. ASSMT. SEC.</text>
<text x="91.3" y="646.3" font-size="6.9" class="bold" textLength="32.5" lengthAdjust="spacingAndGlyphs">3207 - 15</text>
<g stroke="#1c1c1c" stroke-width="0.3">
<text x="245.0" y="631.8" font-size="11.1" class="" textLength="71.0" lengthAdjust="spacingAndGlyphs">T.5 N.,R.13 W.</text>
</g>
</svg>
</body></html>
